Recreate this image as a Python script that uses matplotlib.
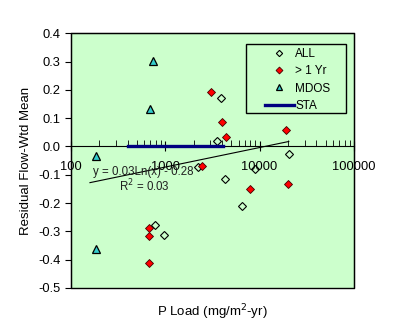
import matplotlib.pyplot as plt
import numpy as np
from matplotlib.patches import Rectangle

plt.rcParams.update({
    'font.family': ['Liberation Sans', 'DejaVu Sans'],
    'font.size': 9,
})

# ALL (open diamonds)
all_x = [3880, 3520, 20400, 2210, 4310, 8960, 6480, 776, 966]
all_y = [0.172, 0.020, -0.025, -0.071, -0.114, -0.080, -0.209, -0.276, -0.312]

# > 1 Yr (red diamonds)
yr_x = [3040, 3980, 4420, 18900, 2460, 7870, 19900, 675, 675, 675]
yr_y = [0.194, 0.088, 0.035, 0.059, -0.068, -0.150, -0.131, -0.287, -0.316, -0.412]

# MDOS (triangles)
mdos_x = [750, 692, 187, 187]
mdos_y = [0.302, 0.133, -0.033, -0.363]

# STA
sta_x = [408, 4070]
sta_y = [0.0, 0.0]

# log trendline y = a*ln(x) + b
trend_a = 0.03
trend_b = -0.28
trend_x = np.array([160, 20400])

y_ticks = [-0.5, -0.4, -0.3, -0.2, -0.1, 0.0, 0.1, 0.2, 0.3, 0.4]
y_labels = ['-0.5', '-0.4', '-0.3', '-0.2', '-0.1', '0.0', '0.1', '0.2', '0.3', '0.4']
x_ticks = [100, 1000, 10000, 100000]
x_labels = ['100', '1000', '10000', '100000']

fig = plt.figure(figsize=(4.03, 3.36), dpi=100)
ax = fig.add_axes([0.1754, 0.1429, 0.703, 0.758])
ax.set_facecolor('#CCFFCC')

ax.plot(all_x, all_y, 'D', ms=4.0, mfc='none', mec='black', mew=0.8, label='ALL')
ax.plot(yr_x, yr_y, 'D', ms=4.4, mfc='#FF0000', mec='#400000', mew=0.6, label='> 1 Yr')
ax.plot(mdos_x, mdos_y, '^', ms=6, mfc='#33CCCC', mec='black', mew=0.9, label='MDOS')
ax.plot(sta_x, sta_y, '-', color='#000080', lw=2.4, label='STA', zorder=3)
ax.plot(trend_x, trend_a * np.log(trend_x) + trend_b, '-', color='black', lw=0.8)

ax.text(172, -0.09, 'y = 0.03Ln(x) - 0.28', ha='left', va='center', fontsize=8.3, color='#202020')
ax.text(326, -0.139, 'R$^2$ = 0.03', ha='left', va='center', fontsize=8.3, color='#202020')

ax.set_xscale('log')
ax.set_xlim(100, 100000)
ax.set_ylim(-0.5, 0.4)
ax.set_yticks(y_ticks)
ax.set_yticklabels(y_labels)
ax.set_xticks(x_ticks)
ax.set_xticklabels(x_labels)

ax.spines['bottom'].set_position(('data', 0))
ax.spines['bottom'].set_zorder(2)
ax.tick_params(axis='x', which='major', direction='inout', length=7, pad=7, labelsize=9.3)
ax.tick_params(axis='x', which='minor', direction='in', length=4)
ax.tick_params(axis='y', direction='out', length=4, labelsize=9.3)
ax.add_patch(Rectangle((0, 0), 1, 1, transform=ax.transAxes, fill=False,
                       lw=1, edgecolor='black', clip_on=False, zorder=5))

ax.set_ylabel('Residual Flow-Wtd Mean', fontsize=9.5, labelpad=4)
fig.text(0.526, 0.07, 'P Load (mg/m$^2$-yr)', ha='center', va='center', fontsize=9.5)

# legend without its own frame, boxed by hand
leg = ax.legend(loc='upper left', bbox_to_anchor=(0.656, 0.975), frameon=False,
                handlelength=2.46, handletextpad=0.1, labelspacing=0.45,
                borderpad=0.2, fontsize=8.5, markerscale=0.8)
ax.add_patch(Rectangle((0.618, 0.688), 0.354, 0.269, transform=ax.transAxes,
                       fill=False, lw=1, edgecolor='black', zorder=5))

plt.savefig('out.png')
